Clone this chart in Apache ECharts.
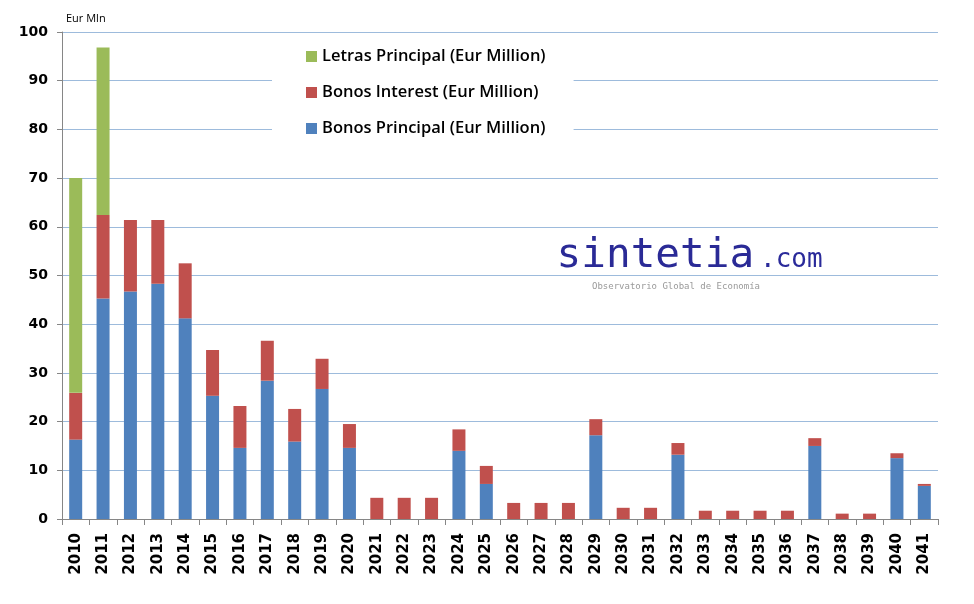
<!DOCTYPE html>
<html>
<head>
<meta charset="utf-8">
<script src="https://cdn.jsdelivr.net/npm/echarts@6/dist/echarts.min.js"></script>
<style>
html, body { margin: 0; padding: 0; background: #fff; }
#chart { width: 974px; height: 604px; }
</style>
</head>
<body>
<div id="chart"></div>
<script>
const years = ['2010', '2011', '2012', '2013', '2014', '2015', '2016', '2017', '2018', '2019', '2020',
    '2021', '2022', '2023', '2024', '2025', '2026', '2027', '2028', '2029', '2030', '2031',
    '2032', '2033', '2034', '2035', '2036', '2037', '2038', '2039', '2040', '2041'];
// Bonos principal (bottom of stack)
const bonosPrincipal = [16.3, 45.3, 46.7, 48.3, 41.2, 25.3, 14.6, 28.4, 15.9, 26.7, 14.6,
    0, 0, 0, 14.0, 7.2, 0, 0, 0, 17.2, 0, 0,
    13.2, 0, 0, 0, 0, 15.0, 0, 0, 12.5, 6.8];
// Bonos interest
const bonosInterest = [9.6, 17.1, 14.7, 13.1, 11.3, 9.4, 8.6, 8.2, 6.7, 6.2, 4.9,
    4.35, 4.35, 4.35, 4.4, 3.7, 3.3, 3.3, 3.3, 3.3, 2.3, 2.3,
    2.4, 1.7, 1.7, 1.7, 1.7, 1.6, 1.1, 1.1, 1.0, 0.4];
// Letras principal (only the first two years)
const letrasPrincipal = [44.1, 34.4, 0, 0, 0, 0, 0, 0, 0, 0, 0,
    0, 0, 0, 0, 0, 0, 0, 0, 0, 0, 0,
    0, 0, 0, 0, 0, 0, 0, 0, 0, 0];
const seriesNames = ['Bonos Principal (Eur Million)', 'Bonos Interest (Eur Million)', 'Letras Principal (Eur Million)'];
const colors = ['#4F81BD', '#C0504D', '#9BBB59'];

const chart = echarts.init(document.getElementById('chart'));

function barSeries(i, data) {
    return {
        name: seriesNames[i],
        type: 'bar',
        stack: 'total',
        data: data,
        barWidth: 13,
        itemStyle: { color: colors[i] }
    };
}

chart.setOption({
    animation: false,
    textStyle: { fontFamily: 'DejaVu Sans, Verdana, sans-serif' },
    grid: { left: 62, right: 36, top: 32, bottom: 85 },
    legend: {
        data: [seriesNames[2], seriesNames[1], seriesNames[0]],
        orient: 'vertical',
        left: 272,
        top: 42,
        padding: [6, 28, 12, 34],
        itemGap: 19,
        itemWidth: 11,
        itemHeight: 11,
        icon: 'rect',
        backgroundColor: '#fff',
        textStyle: {
            fontFamily: 'Open Sans',
            fontSize: 16.5,
            fontWeight: 600,
            color: '#000'
        }
    },
    xAxis: {
        type: 'category',
        data: years,
        axisLine: { lineStyle: { color: '#868686' } },
        axisTick: { show: true, length: 6, lineStyle: { color: '#868686' } },
        axisLabel: {
            rotate: 90,
            color: '#000',
            fontSize: 15,
            fontWeight: 'bold',
            margin: 14,
            interval: 0
        }
    },
    yAxis: {
        type: 'value',
        min: 0,
        max: 100,
        interval: 10,
        name: 'Eur Mln',
        nameLocation: 'end',
        nameGap: 8,
        nameTextStyle: { fontFamily: 'Open Sans', fontSize: 11, color: '#000', align: 'left', padding: [0, 0, 0, 4] },
        axisLine: { show: true, lineStyle: { color: '#868686' } },
        axisTick: { show: true, length: 5, lineStyle: { color: '#868686' } },
        axisLabel: { color: '#000', fontSize: 14, fontWeight: 'bold', margin: 14 },
        splitLine: { lineStyle: { color: '#9DBBDC' } }
    },
    graphic: [
        {
            type: 'text',
            left: 556,
            top: 235,
            style: {
                text: 'sintetia',
                font: '41px "DejaVu Sans Mono"',
                fill: '#2a2a96',
                stroke: '#fff',
                lineWidth: 1.2,
                lineDash: [2, 2]
            }
        },
        {
            type: 'text',
            left: 760,
            top: 247,
            style: {
                text: '.com',
                font: '26px "DejaVu Sans Mono"',
                fill: '#2a2a9a'
            }
        },
        {
            type: 'text',
            left: 592,
            top: 282,
            style: {
                text: 'Observatorio Global de Economía',
                font: '9px "DejaVu Sans Mono"',
                fill: '#999'
            }
        }
    ],
    series: [
        barSeries(0, bonosPrincipal),
        barSeries(1, bonosInterest),
        barSeries(2, letrasPrincipal)
    ]
});
</script>
</body>
</html>
